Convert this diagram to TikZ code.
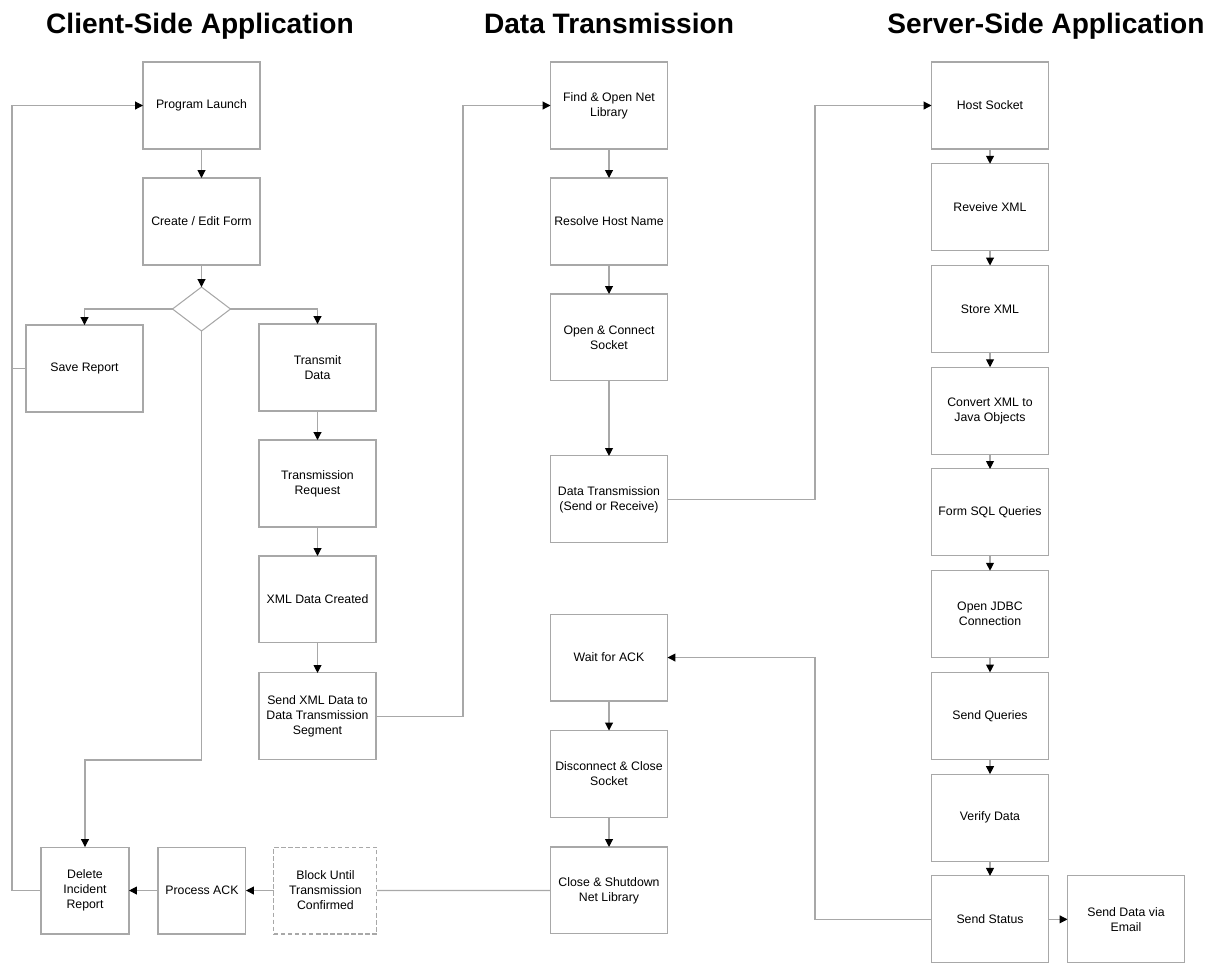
\documentclass[tikz,border=0pt]{standalone}
\usepackage{fontspec}
\setmainfont{Liberation Sans}
\usepackage{xcolor}
\usepackage{tikz}
\usetikzlibrary{shapes.geometric, arrows.meta, positioning, calc}
\definecolor{linegray}{HTML}{A8A8A8}

\begin{document}
\begin{tikzpicture}[
    x=0.02cm, y=-0.02cm,
    node distance=0.58cm and 0.58cm,
    every node/.style={font=\fontsize{7}{8.5}\selectfont},
    stepbox/.style={rectangle, draw=linegray, minimum width=2.34cm,
                    minimum height=1.74cm, align=center, inner sep=1pt,
                    outer sep=0pt, line width=0.6pt},
    smallbox/.style={stepbox, minimum width=1.76cm},
    pendbox/.style={stepbox, minimum width=2.06cm,
                    dash pattern=on 2.5pt off 1.5pt},
    choice/.style={diamond, draw=linegray, minimum width=1.16cm,
                   minimum height=0.88cm, inner sep=0pt, outer sep=0pt,
                   line width=0.6pt},
    arrow/.style={-{Triangle[length=4.5pt, width=4.5pt, color=black]},
                  draw=linegray, line width=0.6pt},
    link/.style={draw=linegray, line width=0.6pt},
    heading/.style={font=\fontsize{16}{19}\selectfont\bfseries, anchor=base}
]
\useasboundingbox (0,0) rectangle (1222,965);

% Column headings
\node[heading] (clienthead) at (200,33)  {Client-Side Application};
\node[heading] (datahead)   at (609,33)  {Data Transmission};
\node[heading] (serverhead) at (1046,33) {Server-Side Application};

% Client side (left column)
\node[stepbox] (launch) at (201.5,105.5) {Program Launch};
\node[stepbox, below=of launch] (form) {Create / Edit Form};
\node[choice] (choice) at (201.5,309) {};
\node[stepbox] (save) at (84.5,368.5) {Save Report};
\node[stepbox] (transmit) at (317.5,367.5) {Transmit\\Data};
\node[stepbox, below=of transmit] (request) {Transmission\\Request};
\node[stepbox, below=of request] (xmldata) {XML Data Created};
\node[stepbox, below=0.6cm of xmldata] (sendxml)
    {Send XML Data to\\Data Transmission\\Segment};
\node[smallbox] (delete) at (85,890.5) {Delete\\Incident\\Report};
\node[smallbox, right=of delete] (procack) {Process ACK};
\node[pendbox, right=0.56cm of procack] (block)
    {Block Until\\Transmission\\Confirmed};

\coordinate (leftrail) at (12,890.5);
\coordinate (dropturn) at (201.5,760);

\draw[arrow] (launch) -- (form);
\draw[arrow] (form) -- (choice);
\draw[arrow] (choice.west) -| (save.north);
\draw[arrow] (choice.east) -| (transmit.north);
\draw[arrow] (choice.south) -- (dropturn) -| (delete.north);
\draw[arrow] (transmit) -- (request);
\draw[arrow] (request) -- (xmldata);
\draw[arrow] (xmldata) -- (sendxml);
\draw[arrow] (block) -- (procack);
\draw[arrow] (procack) -- (delete);
\draw[arrow] (delete.west) -- (leftrail) |- (launch.west);
\draw[link] (save.west) -- (save.west -| leftrail);

% Data transmission (middle column)
\node[stepbox] (findlib) at (609,105.5) {Find \& Open Net\\Library};
\node[stepbox, below=of findlib] (resolve) {Resolve Host Name};
\node[stepbox, below=of resolve] (opensock) {Open \& Connect\\Socket};
\node[stepbox, below=1.5cm of opensock] (datatx)
    {Data Transmission\\(Send or Receive)};
\node[stepbox] (waitack) at (609,657.5) {Wait for ACK};
\node[stepbox, below=0.59cm of waitack] (disconnect)
    {Disconnect \& Close\\Socket};
\node[stepbox, below=0.59cm of disconnect] (shutdown)
    {Close \& Shutdown\\Net Library};

\coordinate (railA) at (463,0);
\coordinate (railB) at (815,0);

\draw[arrow] (sendxml.east) -- (sendxml.east -| railA) |- (findlib.west);
\draw[arrow] (findlib) -- (resolve);
\draw[arrow] (resolve) -- (opensock);
\draw[arrow] (opensock) -- (datatx);
\draw[arrow] (waitack) -- (disconnect);
\draw[arrow] (disconnect) -- (shutdown);
\draw[link] (shutdown.west) -- (block.east);

% Server side (right column)
\node[stepbox] (hostsock) at (990,105.5) {Host Socket};
\node[stepbox, below=0.295cm of hostsock] (recvxml) {Reveive XML};
\node[stepbox, below=0.295cm of recvxml] (storexml) {Store XML};
\node[stepbox, below=0.295cm of storexml] (convert)
    {Convert XML to\\Java Objects};
\node[stepbox, below=0.295cm of convert] (sqlform) {Form SQL Queries};
\node[stepbox, below=0.295cm of sqlform] (jdbc) {Open JDBC\\Connection};
\node[stepbox, below=0.295cm of jdbc] (queries) {Send Queries};
\node[stepbox, below=0.295cm of queries] (verify) {Verify Data};
\node[stepbox, below=0.295cm of verify] (status) {Send Status};
\node[stepbox, right=0.38cm of status] (email) {Send Data via\\Email};

\draw[arrow] (datatx.east) -- (datatx.east -| railB) |- (hostsock.west);
\draw[arrow] (hostsock) -- (recvxml);
\draw[arrow] (recvxml) -- (storexml);
\draw[arrow] (storexml) -- (convert);
\draw[arrow] (convert) -- (sqlform);
\draw[arrow] (sqlform) -- (jdbc);
\draw[arrow] (jdbc) -- (queries);
\draw[arrow] (queries) -- (verify);
\draw[arrow] (verify) -- (status);
\draw[arrow] (status) -- (email);
\draw[arrow] (status.west) -- (status.west -| railB) |- (waitack.east);

\end{tikzpicture}
\end{document}
